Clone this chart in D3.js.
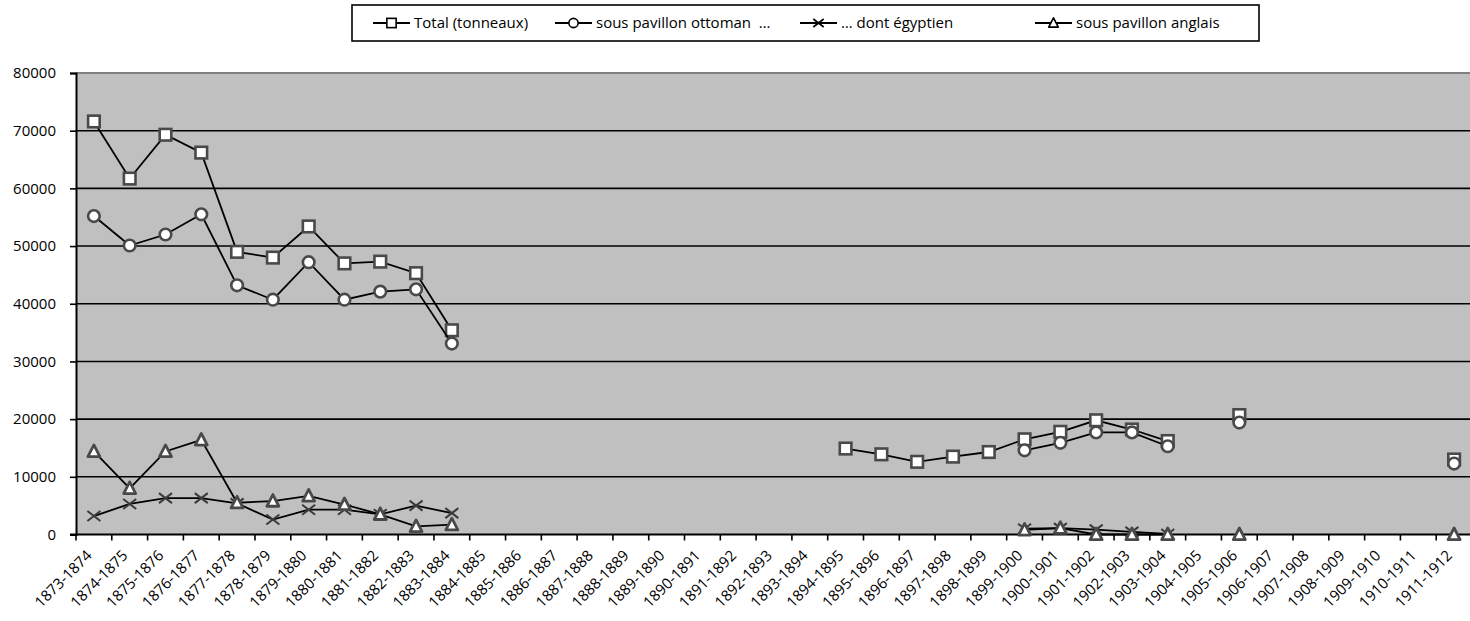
<!DOCTYPE html>
<html>
<head>
<meta charset="utf-8">
<script src="https://cdn.jsdelivr.net/npm/d3@7"></script>
<style>
  html, body { margin: 0; padding: 0; background: #fff; }
  svg { display: block; font-family: "Open Sans", sans-serif; }
  text { fill: #000; }
</style>
</head>
<body>
<svg id="chart" width="1470" height="621"></svg>
<script>
// Tonnage by season (tonneaux)
const seasons = [
  "1873-1874","1874-1875","1875-1876","1876-1877","1877-1878","1878-1879","1879-1880",
  "1880-1881","1881-1882","1882-1883","1883-1884","1884-1885","1885-1886","1886-1887",
  "1887-1888","1888-1889","1889-1890","1890-1891","1891-1892","1892-1893","1893-1894",
  "1894-1895","1895-1896","1896-1897","1897-1898","1898-1899","1899-1900","1900-1901",
  "1901-1902","1902-1903","1903-1904","1904-1905","1905-1906","1906-1907","1907-1908",
  "1908-1909","1909-1910","1910-1911","1911-1912"
];

const total = [
  71600, 61700, 69300, 66200, 49000, 48000, 53400, 47000, 47300, 45300, 35400,
  null, null, null, null, null, null, null, null, null, null,
  14900, 13900, 12600, 13500, 14300, 16500, 17800, 19800, 18200, 16200,
  null, 20700, null, null, null, null, null, 13000
];

const ottoman = [
  55200, 50100, 52000, 55500, 43200, 40700, 47200, 40700, 42100, 42500, 33100,
  null, null, null, null, null, null, null, null, null, null,
  null, null, null, null, null, 14600, 15900, 17700, 17700, 15300,
  null, 19400, null, null, null, null, null, 12300
];

const egyptian = [
  3200, 5300, 6300, 6300, 5400, 2600, 4300, 4300, 3500, 5000, 3700,
  null, null, null, null, null, null, null, null, null, null,
  null, null, null, null, null, 1000, 1100, 850, 450, 100,
  null, null, null, null, null, null, null, null
];

const english = [
  14400, 8000, 14400, 16400, 5500, 5800, 6700, 5200, 3500, 1400, 1700,
  null, null, null, null, null, null, null, null, null, null,
  null, null, null, null, null, 800, 1100, 0, 0, 0,
  null, 0, null, null, null, null, null, 0
];

const seriesNames = ["Total (tonneaux)", "sous pavillon ottoman  \u2026", "\u2026 dont \u00e9gyptien", "sous pavillon anglais"];
const seriesMarkers = ["square", "circle", "cross", "triangle"];
const yTicks = [0, 10000, 20000, 30000, 40000, 50000, 60000, 70000, 80000];

const seriesList = [total, ottoman, egyptian, english].map((values, i) => ({
  name: seriesNames[i], marker: seriesMarkers[i], values
}));

const svg = d3.select("#chart");
const plot = { left: 76, right: 1472, top: 73, bottom: 534.5 };

// soft edge for the markers
const defs = svg.append("defs");
defs.append("filter").attr("id", "soft")
  .attr("x", "-50%").attr("y", "-50%").attr("width", "200%").attr("height", "200%")
  .append("feGaussianBlur").attr("stdDeviation", 0.45);

const x = d3.scaleBand().domain(seasons).range([plot.left, plot.right]).padding(0);
const y = d3.scaleLinear().domain([0, 80000]).range([plot.bottom, plot.top]);

// plot background
svg.append("rect")
  .attr("x", plot.left).attr("y", plot.top)
  .attr("width", plot.right - plot.left).attr("height", plot.bottom - plot.top)
  .attr("fill", "#c0c0c0");
svg.append("line")
  .attr("x1", plot.left).attr("x2", plot.right)
  .attr("y1", plot.top).attr("y2", plot.top)
  .attr("stroke", "#808080").attr("stroke-width", 2);

// horizontal gridlines
svg.append("g").selectAll("line")
  .data(yTicks.filter(t => t > 0 && t < 80000))
  .join("line")
  .attr("x1", plot.left).attr("x2", plot.right)
  .attr("y1", d => y(d)).attr("y2", d => y(d))
  .attr("stroke", "#000").attr("stroke-width", 1.6);

// y axis
const yAxis = svg.append("g")
  .attr("transform", `translate(${plot.left},0)`)
  .call(d3.axisLeft(y).tickValues(yTicks).tickSize(6).tickPadding(14).tickFormat(d3.format("d")));
yAxis.select(".domain").attr("stroke", "#000").attr("stroke-width", 2);
yAxis.selectAll(".tick line").attr("stroke", "#000").attr("stroke-width", 1.6);
yAxis.selectAll(".tick text").attr("font-size", 15).attr("font-family", "Open Sans, sans-serif").attr("fill", "#000");

// x axis with ticks at band boundaries
const xAxisG = svg.append("g");
xAxisG.append("line")
  .attr("x1", plot.left - 6).attr("x2", plot.right)
  .attr("y1", plot.bottom).attr("y2", plot.bottom)
  .attr("stroke", "#000").attr("stroke-width", 2);
xAxisG.selectAll("line.tk")
  .data(seasons.concat(["__end"]))
  .join("line").attr("class", "tk")
  .attr("x1", (d, i) => plot.left + i * x.bandwidth())
  .attr("x2", (d, i) => plot.left + i * x.bandwidth())
  .attr("y1", plot.bottom).attr("y2", plot.bottom + 6)
  .attr("stroke", "#000").attr("stroke-width", 1.6);
xAxisG.selectAll("text")
  .data(seasons)
  .join("text")
  .attr("transform", d => `translate(${x(d) + x.bandwidth() / 2 - 1},${plot.bottom + 22}) rotate(-45)`)
  .attr("text-anchor", "end")
  .attr("font-size", 15)
  .text(d => d);

// marker shapes
function drawMarker(sel, type) {
  if (type === "square") {
    sel.append("rect").attr("x", -5.8).attr("y", -5.8).attr("width", 11.6).attr("height", 11.6)
      .attr("fill", "#fff").attr("stroke", "#4a4a4a").attr("stroke-width", 2.6);
  } else if (type === "circle") {
    sel.append("circle").attr("r", 5.8)
      .attr("fill", "#fff").attr("stroke", "#4a4a4a").attr("stroke-width", 2.6);
  } else if (type === "triangle") {
    sel.append("path").attr("d", "M0,-6.5 L6,5.2 L-6,5.2 Z")
      .attr("fill", "#fff").attr("stroke", "#4a4a4a").attr("stroke-width", 2.8).attr("stroke-linejoin", "round");
  } else if (type === "cross") {
    sel.append("path").attr("d", "M-6.5,-5 L6.5,5 M-6.5,5 L6.5,-5")
      .attr("fill", "none").attr("stroke", "#3a3a3a").attr("stroke-width", 2);
  }
}

const line = d3.line()
  .defined(d => d.v !== null)
  .x(d => x(d.s) + x.bandwidth() / 2)
  .y(d => y(d.v));

seriesList.forEach(s => {
  const pts = seasons.map((sn, i) => ({ s: sn, v: s.values[i] }));
  const g = svg.append("g");
  g.append("path")
    .datum(pts)
    .attr("d", line)
    .attr("fill", "none").attr("stroke", "#000").attr("stroke-width", 1.8);
  g.selectAll("g.mk")
    .data(pts.filter(d => d.v !== null))
    .join("g").attr("class", "mk")
    .attr("filter", "url(#soft)")
    .attr("transform", d => `translate(${x(d.s) + x.bandwidth() / 2},${y(d.v)})`)
    .each(function () { drawMarker(d3.select(this), s.marker); });
});

// legend
const legend = svg.append("g");
legend.append("rect")
  .attr("x", 352).attr("y", 5).attr("width", 907).attr("height", 36)
  .attr("fill", "#fff").attr("stroke", "#000").attr("stroke-width", 1.6);
const legendX = [373, 555, 800, 1035];
seriesList.forEach((s, i) => {
  const g = legend.append("g").attr("transform", `translate(${legendX[i]},23)`);
  g.append("line").attr("x1", 0).attr("x2", 37).attr("y1", 0).attr("y2", 0)
    .attr("stroke", "#000").attr("stroke-width", 1.8);
  const m = g.append("g").attr("transform", "translate(18.5,0) scale(0.8)");
  drawMarker(m, s.marker);
  m.selectAll("*").attr("stroke", "#000").attr("stroke-width", 2);
  g.append("text").attr("x", 41).attr("y", 0).attr("dy", "0.35em")
    .attr("font-size", 15).style("white-space", "pre").text(s.name);
});
</script>
</body>
</html>
